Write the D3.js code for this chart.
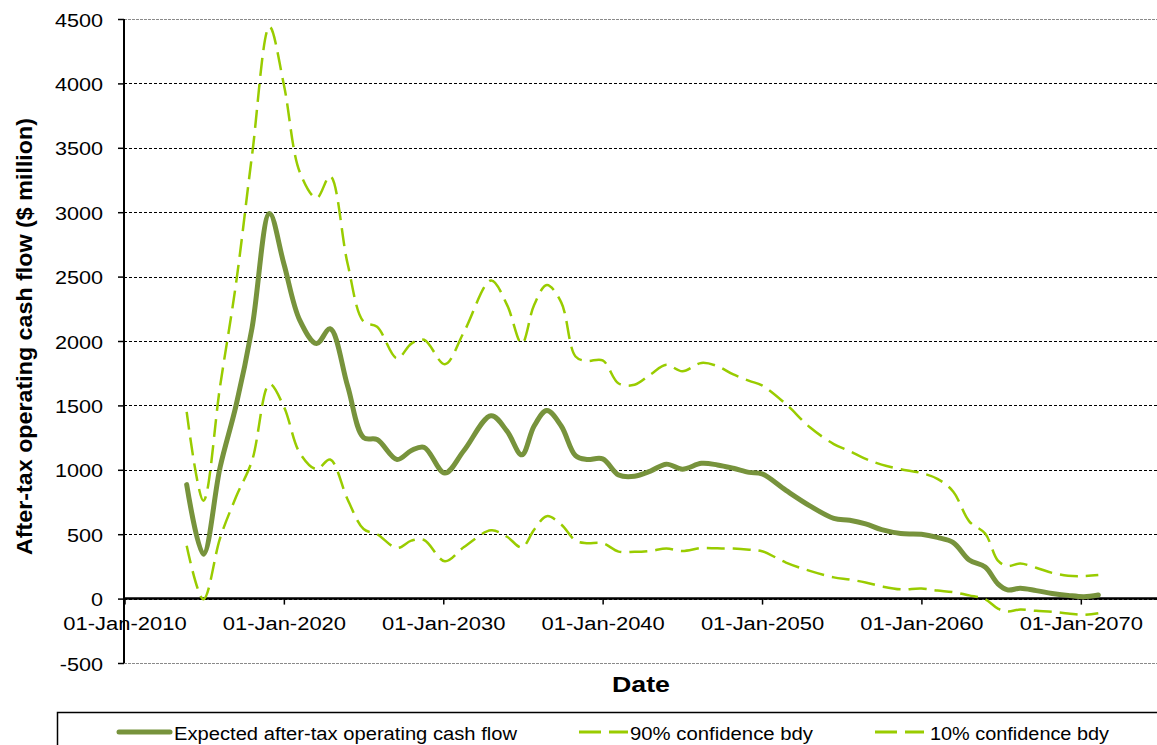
<!DOCTYPE html>
<html>
<head>
<meta charset="utf-8">
<script src="https://cdn.jsdelivr.net/npm/d3@7"></script>
<style>
  body { margin: 0; background: #fff; }
  svg { display: block; }
  text { font-family: "Liberation Sans", Arial, sans-serif; fill: #000; }
</style>
</head>
<body>
<svg id="chart" width="1157" height="745"></svg>
<script>
// ---- data (decimal years) ----
const years = [2013.9, 2014.95, 2016.0, 2017.0, 2018.0, 2019.1, 2020.0, 2021.0, 2022.05, 2022.9,
  2024.0, 2025.0, 2025.85, 2027.1, 2028.0, 2028.8, 2030.1, 2031.3, 2033.0, 2034.0,
  2034.93, 2035.7, 2036.5, 2037.4, 2038.3, 2039.0, 2040.0, 2041.0, 2042.0, 2043.0,
  2044.0, 2045.0, 2046.2, 2047.2, 2048.2, 2049.2, 2050.0, 2051.5, 2053.0, 2054.5,
  2055.5, 2056.5, 2057.5, 2058.7, 2060.0, 2061.0, 2062.0, 2063.0, 2064.0, 2064.8,
  2065.4, 2066.2, 2067.2, 2068.2, 2069.2, 2070.2, 2071.1];

const expected = [885, 345, 1020, 1500, 2100, 2990, 2600, 2160, 1980, 2095,
  1650, 1250, 1235, 1080, 1150, 1175, 975, 1150, 1420, 1300,
  1116, 1340, 1460, 1340, 1110, 1080, 1085, 960, 950, 990,
  1044, 1005, 1050, 1038, 1012, 980, 968, 840, 720, 623,
  608, 580, 535, 505, 500, 475, 435, 300, 245, 115,
  68, 80, 62, 40, 25, 15, 28];

const upper90 = [1450, 760, 1650, 2450, 3440, 4440, 3990, 3310, 3110, 3280,
  2600, 2150, 2110, 1865, 1980, 2010, 1820, 2070, 2470, 2280,
  1980, 2280, 2435, 2300, 1880, 1845, 1850, 1670, 1660, 1740,
  1815, 1765, 1830, 1805, 1740, 1690, 1655, 1510, 1330, 1200,
  1145, 1085, 1040, 1005, 975, 930, 830, 600, 505, 295,
  253, 272, 240, 200, 178, 175, 183];

const lower10 = [410, -5, 470, 790, 1070, 1665, 1490, 1130, 1005, 1080,
  770, 540, 500, 393, 450, 455, 290, 400, 530, 480,
  397, 535, 640, 575, 450, 430, 430, 365, 363, 370,
  389, 370, 393, 390, 389, 380, 368, 280, 215, 165,
  148, 125, 95, 72, 78, 62, 50, 25, -5, -78,
  -100, -85, -95, -102, -115, -126, -114];

const yTicks = [-500, 0, 500, 1000, 1500, 2000, 2500, 3000, 3500, 4000, 4500];
const xTickYears = [2010, 2020, 2030, 2040, 2050, 2060, 2070];
const seriesNames = ["Expected after-tax operating cash flow", "90% confidence bdy", "10% confidence bdy"];
const yTitle = "After-tax operating cash flow ($ million)";
const xTitle = "Date";

(function () {
// ---- helpers ----
const toDate = v => { const yr = Math.floor(v); const f = v - yr; return new Date(yr, 0, 1 + Math.round(f * 365)); };
function stretch(sel, k) {
  sel.each(function () {
    const w = this.getComputedTextLength();
    this.setAttribute("textLength", w * k);
    this.setAttribute("lengthAdjust", "spacingAndGlyphs");
  });
}

const svg = d3.select("#chart");
const pLeft = 124, pRight = 1160.5, pTop = 19, pBottom = 663;

const x = d3.scaleTime().domain([new Date(2010, 0, 1), new Date(2075, 0, 1)]).range([124.5, pRight]);
const y = d3.scaleLinear().domain([-500, 4500]).range([pBottom, pTop]);

// gridlines
svg.append("g").selectAll("line").data(yTicks).join("line")
  .attr("x1", pLeft).attr("x2", pRight)
  .attr("y1", d => Math.round(y(d)) + 0.5).attr("y2", d => Math.round(y(d)) + 0.5)
  .attr("stroke", d => (d === 4500 || d === -500) ? "#8a8a8a" : "#000")
  .attr("stroke-width", 1)
  .attr("stroke-dasharray", d => (d === 4500 || d === -500) ? "3,1" : "3,2");

// y axis
const yAxis = svg.append("g").attr("transform", `translate(${pLeft},0)`)
  .call(d3.axisLeft(y).tickValues(yTicks).tickSize(6).tickFormat(d => String(d)));
yAxis.select(".domain").remove();
yAxis.selectAll(".tick line").attr("stroke", "#000").attr("stroke-width", 1.5);
yAxis.selectAll(".tick text").attr("x", -21).attr("dy", 7).attr("font-size", 18)
  .attr("font-family", "Liberation Sans, Arial, sans-serif").attr("fill", "#000");
stretch(yAxis.selectAll(".tick text"), 1.2);
svg.append("line").attr("x1", pLeft).attr("x2", pLeft).attr("y1", pTop).attr("y2", pBottom)
  .attr("stroke", "#000").attr("stroke-width", 2);

// x axis on zero line
const fmt = d3.timeFormat("%d-%b-%Y");
const xAxis = svg.append("g").attr("transform", `translate(0,${y(0)})`)
  .call(d3.axisBottom(x).tickValues(xTickYears.map(v => new Date(v, 0, 1))).tickSize(6).tickFormat(fmt));
xAxis.select(".domain").remove();
xAxis.selectAll(".tick line").attr("stroke", "#000").attr("stroke-width", 1.5);
xAxis.selectAll(".tick text").attr("y", 31).attr("dy", 0).attr("font-size", 18)
  .attr("font-family", "Liberation Sans, Arial, sans-serif").attr("fill", "#000");
stretch(xAxis.selectAll(".tick text"), 1.22);
svg.append("line").attr("x1", pLeft).attr("x2", pRight).attr("y1", y(0)).attr("y2", y(0))
  .attr("stroke", "#000").attr("stroke-width", 2.5);

// lines
const line = vals => d3.line()
  .x((d, i) => x(toDate(years[i])))
  .y(d => y(d))
  .curve(d3.curveCatmullRom.alpha(0.5))(vals);

svg.append("path").attr("d", line(expected)).attr("fill", "none")
  .attr("stroke", "#77933C").attr("stroke-width", 5).attr("stroke-linejoin", "round").attr("stroke-linecap", "round");
svg.append("path").attr("d", line(upper90)).attr("fill", "none")
  .attr("stroke", "#99CC00").attr("stroke-width", 2.5).attr("stroke-dasharray", "18,8");
svg.append("path").attr("d", line(lower10)).attr("fill", "none")
  .attr("stroke", "#99CC00").attr("stroke-width", 2.5).attr("stroke-dasharray", "18,8");

// axis titles
svg.append("text").attr("transform", "translate(32,336.5) rotate(-90)")
  .attr("text-anchor", "middle").attr("font-size", 22).attr("font-weight", "bold")
  .attr("textLength", 437).attr("lengthAdjust", "spacingAndGlyphs").text(yTitle);
svg.append("text").attr("x", 641).attr("y", 692)
  .attr("text-anchor", "middle").attr("font-size", 22).attr("font-weight", "bold")
  .attr("textLength", 58).attr("lengthAdjust", "spacingAndGlyphs").text(xTitle);

// legend
svg.append("rect").attr("x", 57.5).attr("y", 712.5).attr("width", 1200).attr("height", 100)
  .attr("fill", "none").attr("stroke", "#000").attr("stroke-width", 1.5);
const leg = svg.append("g");
leg.append("line").attr("x1", 119).attr("x2", 170).attr("y1", 732).attr("y2", 732)
  .attr("stroke", "#77933C").attr("stroke-width", 5).attr("stroke-linecap", "round");
leg.append("text").attr("x", 174).attr("y", 740).attr("font-size", 18)
  .attr("textLength", 343).attr("lengthAdjust", "spacingAndGlyphs").text(seriesNames[0]);
[[579, 630, seriesNames[1], 183], [875, 930, seriesNames[2], 179]].forEach(([lx, tx, name, tl]) => {
  leg.append("line").attr("x1", lx).attr("x2", lx + 49).attr("y1", 732).attr("y2", 732)
    .attr("stroke", "#99CC00").attr("stroke-width", 3).attr("stroke-dasharray", "22,8");
  leg.append("text").attr("x", tx).attr("y", 740).attr("font-size", 18)
    .attr("textLength", tl).attr("lengthAdjust", "spacingAndGlyphs").text(name);
});
})();
</script>
</body>
</html>
